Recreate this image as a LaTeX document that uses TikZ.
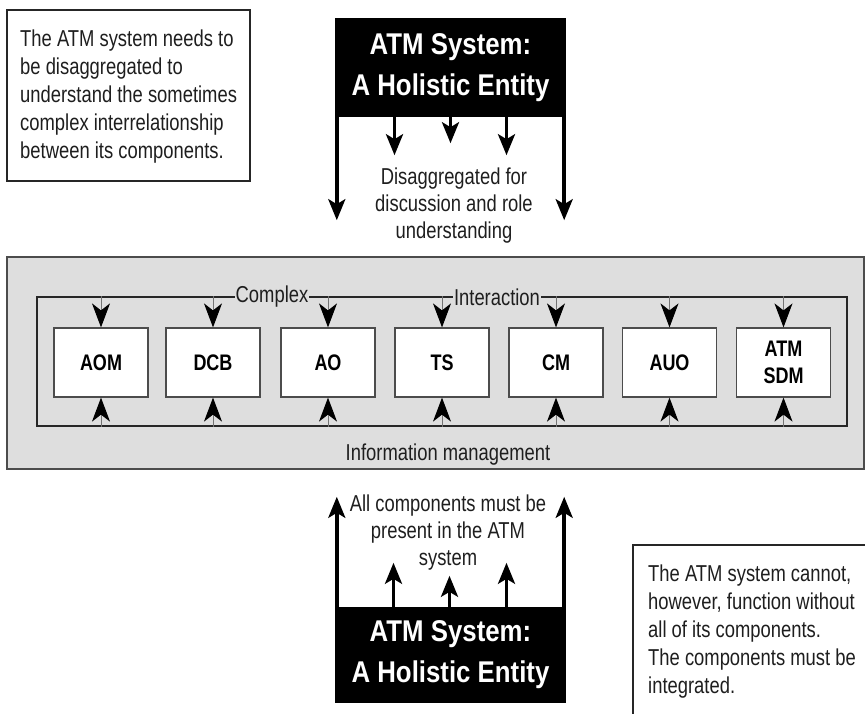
\documentclass[tikz,border=0pt]{standalone}
\usepackage{fontspec}
\setmainfont{Liberation Sans}[FakeStretch=0.8]
\newfontfamily\titlefont{Liberation Sans}[FakeStretch=0.86]
\usetikzlibrary{arrows.meta,positioning}

\definecolor{panelgray}{HTML}{DEDEDE}
\definecolor{inkgray}{HTML}{1E1E1E}

\tikzset{
  note/.style={draw=black!85, line width=1.3pt, fill=white},
  body/.style={font=\fontsize{23}{28}\selectfont, text=inkgray, align=left, inner sep=0pt},
  caption/.style={font=\fontsize{23}{27}\selectfont, text=inkgray, align=center, inner sep=0pt},
  holistic/.style={fill=black, text=white, minimum width=231pt,
    font=\titlefont\fontsize{30}{41}\selectfont\bfseries, align=center},
  comp/.style={draw=black!70, line width=1.2pt, fill=white, minimum width=94pt,
    minimum height=69pt, font=\fontsize{22.5}{27}\selectfont\bfseries, align=center},
  bigarrow/.style={line width=3.5pt, -{Stealth[length=21pt,width=17pt,inset=5pt]}},
  linkarrow/.style={draw=black!55, line width=1pt,
    -{Stealth[length=24pt,width=18pt,inset=7pt,color=black]}},
  tag/.style={fill=panelgray, font=\fontsize{23}{27}\selectfont, text=inkgray, inner xsep=1pt, inner ysep=2pt},
}

\begin{document}
\begin{tikzpicture}[x=1pt, y=-1pt]
  \clip (0,0) rectangle (865,713);

  % notes
  \node[note, minimum width=243pt, minimum height=171pt] (needs) at (128.5,95.5) {};
  \node[body, anchor=north west] (needstext) at (20,30)
    {The ATM system needs to\\ be disaggregated to\\ understand the sometimes\\
     complex interrelationship\\ between its components.};
  \node[note, minimum width=247pt, minimum height=185pt] (cannot) at (756.5,637.5) {};
  \node[body, anchor=north west] (cannottext) at (648,565)
    {The ATM system cannot,\\ however, function without\\ all of its components.\\
     The components must be\\ integrated.};

  % holistic entity, top and bottom
  \node[holistic, minimum height=99pt] (top) at (450.5,67.5) {ATM System:\\ A Holistic Entity};
  \node[holistic, minimum height=96pt] (bot) at (450.5,655) {ATM System:\\ A Holistic Entity};

  \draw[bigarrow] ([xshift=2pt]top.south west) -- ++(0,103);
  \draw[bigarrow] ([xshift=-2pt]top.south east) -- ++(0,103);
  \foreach \dx/\len in {-56/38, 0/26, 56/38}
    \draw[bigarrow] ([xshift=\dx pt]top.south) -- ++(0,\len);
  \node[caption, anchor=north] (disagg) at (454,168)
    {Disaggregated for\\ discussion and role\\ understanding};

  \draw[bigarrow] ([xshift=2pt]bot.north west) -- ++(0,-110);
  \draw[bigarrow] ([xshift=-2pt]bot.north east) -- ++(0,-110);
  \foreach \dx/\len in {-57/44, -1/31, 56/44}
    \draw[bigarrow] ([xshift=\dx pt]bot.north) -- ++(0,-\len);
  \node[caption, anchor=north] (present) at (448,495)
    {All components must be\\ present in the ATM\\ system};

  % components
  \node[draw=black!70, line width=1.3pt, fill=panelgray, minimum width=857pt,
    minimum height=212pt] (panel) at (435.5,363) {};
  \node[draw=black!85, line width=1.3pt, minimum width=810pt, minimum height=129pt]
    (frame) at (442,361.5) {};
  \node[tag] (complex) at (272,297) {Complex};
  \node[tag] (interaction) at (497,297) {Interaction};
  \node[caption, anchor=base] (infomgmt) at (448,460) {Information management};

  \foreach \n/\x/\t in {aom/101/AOM, dcb/213/DCB, ao/328/AO, ts/442/TS,
      cm/556/CM, auo/669.5/AUO, sdm/783.5/{ATM\\ SDM}} {
    \node[comp] (\n) at (\x,362.5) {\t};
    \draw[linkarrow] (\n.north |- frame.north) -- (\n.north);
    \draw[linkarrow] (\n.south |- frame.south) -- (\n.south);
  }
\end{tikzpicture}
\end{document}
